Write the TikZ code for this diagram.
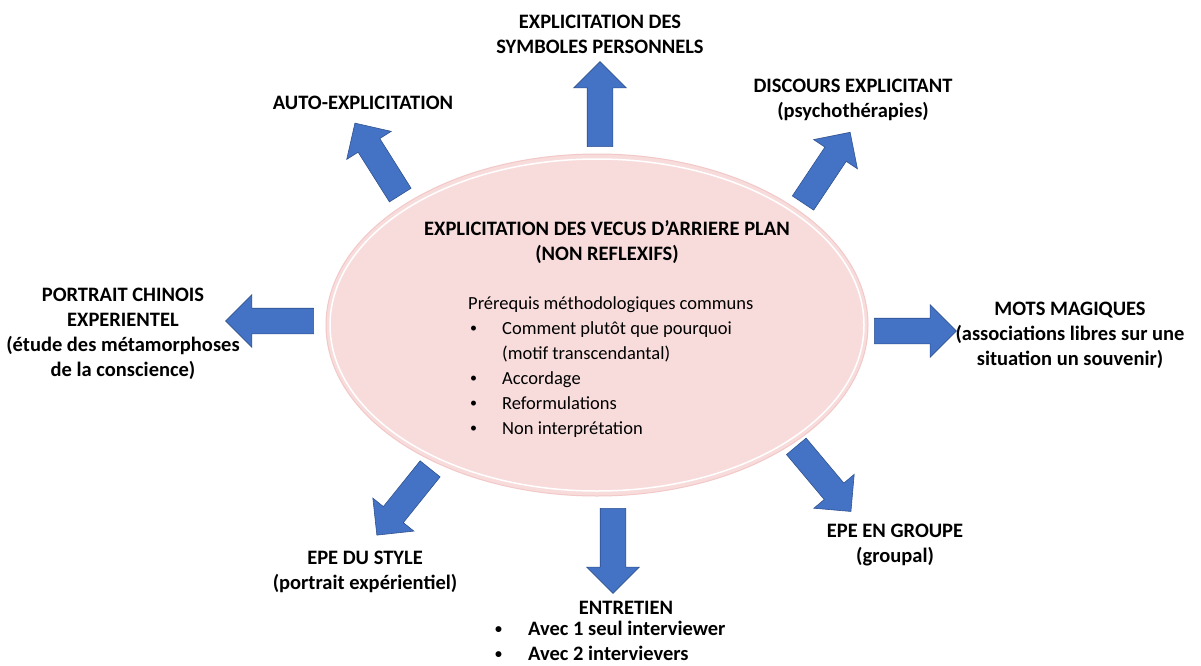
\documentclass[tikz,border=0pt]{standalone}
\usepackage{fontspec}
\setmainfont{Carlito}
\usetikzlibrary{shapes.geometric,shapes.arrows}
\definecolor{bleu}{HTML}{4472C4}
\definecolor{bleufonce}{HTML}{2F528F}
\definecolor{rose}{HTML}{F8DCDC}
\definecolor{roseborde}{HTML}{F2C8C8}
\newcommand{\puce}{\raisebox{2pt}{\fontsize{14}{14}\selectfont\textbullet}}
\begin{document}
\begin{tikzpicture}[x=1pt,y=-1pt,
  fleche/.style={single arrow, fill=bleu, draw=bleufonce, line width=0.6pt,
    inner sep=12.5pt, single arrow head extend=13.5pt, minimum height=85pt},
  titre/.style={font=\bfseries\fontsize{20.5}{25}\selectfont, align=center, inner sep=0pt},
  texte/.style={font=\fontsize{18.5}{25}\selectfont, align=left, inner sep=0pt}]
  \fill[white] (0,0) rectangle (1201,666);
  \useasboundingbox (0,0) rectangle (1201,666);

  % ellipse centrale
  \node (centre) [ellipse, fill=rose, draw=roseborde, line width=1pt,
    minimum width=542pt, minimum height=342pt, inner sep=0pt] at (597,325) {};
  \draw[white, line width=1.5pt] (centre.center) ellipse [x radius=267pt, y radius=166pt];

  \node (vecus) [titre] at (607,242.5) {EXPLICITATION DES VECUS D’ARRIERE PLAN\\(NON REFLEXIFS)};
  \node (prerequis) [texte, anchor=north west] at (468,296) {Prérequis méthodologiques communs\\
    \makebox[34pt][l]{\hspace{2pt}\puce}Comment plutôt que pourquoi\\
    \hspace*{34pt}(motif transcendantal)\\
    \makebox[34pt][l]{\hspace{2pt}\puce}Accordage\\
    \makebox[34pt][l]{\hspace{2pt}\puce}Reformulations\\
    \makebox[34pt][l]{\hspace{2pt}\puce}Non interprétation};

  % fleches
  \node (fHaut) [fleche, rotate=90] at (600,110.5) {};
  \node (fHautG) [fleche, rotate=122.2] at (381,164.5) {};
  \node (fHautD) [fleche, rotate=56.3] at (823,173) {};
  \node (fGauche) [fleche, rotate=180, minimum height=88pt] at (276,321) {};
  \node (fDroite) [fleche, minimum height=82pt] at (909,331) {};
  \node (fBasG) [fleche, rotate=231.2] at (407.5,497) {};
  \node (fBas) [fleche, rotate=270] at (613,544.5) {};
  \node (fBasD) [fleche, rotate=310] at (819.5,474) {};

  % etiquettes
  \node (symboles) [titre] at (600,34) {EXPLICITATION DES\\SYMBOLES PERSONNELS};
  \node (auto) [titre] at (363,103) {AUTO-EXPLICITATION};
  \node (discours) [titre] at (853,100) {DISCOURS EXPLICITANT\\(psychothérapies)};
  \node (portrait) [titre] at (123,334) {PORTRAIT CHINOIS\\EXPERIENTEL\\(étude des métamorphoses\\de la conscience)};
  \node (mots) [titre] at (1070,335) {MOTS MAGIQUES\\(associations libres sur une\\situation un souvenir)};
  \node (style) [titre] at (365,572) {EPE DU STYLE\\(portrait expérientiel)};
  \node (groupe) [titre] at (895,545) {EPE EN GROUPE\\(groupal)};
  \node (entretien) [titre] at (626,608) {ENTRETIEN};
  \node (interview) [titre, align=left, anchor=north west] at (495,621) {%
    \makebox[33pt][l]{\puce}Avec 1 seul interviewer\\
    \makebox[33pt][l]{\puce}Avec 2 intervievers};
\end{tikzpicture}
\end{document}
